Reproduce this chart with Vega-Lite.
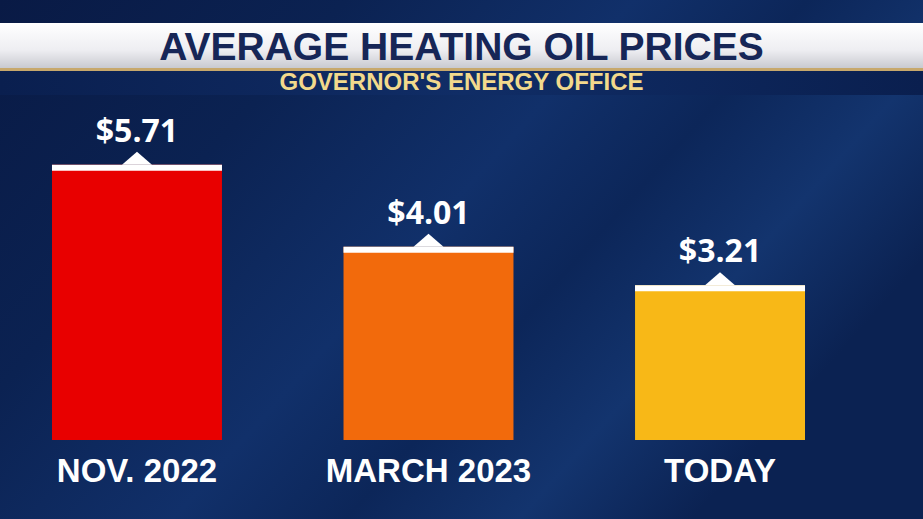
{
  "$schema": "https://vega.github.io/schema/vega-lite/v6.json",
  "width": 923,
  "height": 519,
  "autosize": {"type": "fit", "contains": "padding"},
  "padding": 0,
  "background": "#0c2555",
  "config": {"view": {"stroke": null}},
  "datasets": {
    "prices": [
      {"period": "NOV. 2022", "price": 5.71, "label": "$5.71"},
      {"period": "MARCH 2023", "price": 4.01, "label": "$4.01"},
      {"period": "TODAY", "price": 3.21, "label": "$3.21"}
    ],
    "header": [
      {"title": "AVERAGE HEATING OIL PRICES", "subtitle": "GOVERNOR'S ENERGY OFFICE"}
    ]
  },
  "data": {"name": "prices"},
  "layer": [
    {
      "data": {"name": "header"},
      "mark": {
        "type": "rect",
        "color": {
          "gradient": "linear", "x1": 0, "y1": 0, "x2": 1, "y2": 0.5,
          "stops": [
            {"offset": 0, "color": "#091a45"},
            {"offset": 0.3, "color": "#0b2252"},
            {"offset": 0.55, "color": "#11306a"},
            {"offset": 0.7, "color": "#0c2659"},
            {"offset": 0.85, "color": "#13346e"},
            {"offset": 1, "color": "#0b2252"}
          ]
        }
      },
      "encoding": {}
    },
    {
      "data": {"name": "header"},
      "mark": {
        "type": "rect",
        "color": {
          "gradient": "linear", "x1": 0, "y1": 0, "x2": 0, "y2": 1,
          "stops": [
            {"offset": 0, "color": "#ffffff"},
            {"offset": 0.6, "color": "#eeeef2"},
            {"offset": 1, "color": "#c9cad0"}
          ]
        }
      },
      "encoding": {"y": {"value": 23}, "y2": {"value": 68}}
    },
    {
      "data": {"name": "header"},
      "mark": {"type": "rect", "color": "#c7a86c"},
      "encoding": {"y": {"value": 68}, "y2": {"value": 71}}
    },
    {
      "data": {"name": "header"},
      "mark": {
        "type": "rect",
        "color": {
          "gradient": "linear", "x1": 0, "y1": 0, "x2": 1, "y2": 0,
          "stops": [
            {"offset": 0, "color": "#0a1f4f"},
            {"offset": 0.5, "color": "#102d66"},
            {"offset": 1, "color": "#0a1f4f"}
          ]
        }
      },
      "encoding": {"y": {"value": 71}, "y2": {"value": 95}}
    },
    {
      "data": {"name": "header"},
      "mark": {
        "type": "text", "font": "Liberation Sans", "fontWeight": "bold",
        "fontSize": 39, "color": "#162657", "baseline": "alphabetic", "align": "center"
      },
      "encoding": {"text": {"field": "title"}, "y": {"value": 60}}
    },
    {
      "data": {"name": "header"},
      "mark": {
        "type": "text", "font": "Liberation Sans", "fontWeight": "bold",
        "fontSize": 24, "color": "#f2d98c", "baseline": "alphabetic", "align": "center"
      },
      "encoding": {"text": {"field": "subtitle"}, "y": {"value": 90}}
    },
    {
      "mark": {"type": "bar"},
      "encoding": {
        "x": {
          "field": "period", "type": "nominal", "sort": null, "axis": null,
          "scale": {"type": "band", "domain": ["NOV. 2022", "MARCH 2023", "TODAY"], "range": [52, 805], "paddingInner": 0.417, "paddingOuter": 0}
        },
        "y": {
          "field": "price", "type": "quantitative", "axis": null,
          "scale": {"domain": [0, 9.13], "range": [440, 0], "nice": false, "zero": true}
        },
        "color": {
          "field": "period", "type": "nominal", "legend": null,
          "scale": {"domain": ["NOV. 2022", "MARCH 2023", "TODAY"], "range": ["#e80000", "#f26a0c", "#f8b817"]}
        }
      }
    },
    {
      "mark": {"type": "tick", "orient": "horizontal", "thickness": 6, "size": 170, "yOffset": 3, "color": "#ffffff", "opacity": 1},
      "encoding": {
        "x": {"field": "period", "type": "nominal", "sort": null},
        "y": {"field": "price", "type": "quantitative"}
      }
    },
    {
      "mark": {
        "type": "point", "shape": "M-1,0L0,-0.87L1,0Z", "size": 900,
        "filled": true, "color": "#ffffff", "opacity": 1, "strokeWidth": 0
      },
      "encoding": {
        "x": {"field": "period", "type": "nominal", "sort": null},
        "y": {"field": "price", "type": "quantitative"}
      }
    },
    {
      "mark": {
        "type": "text", "font": "Open Sans", "fontWeight": "bold", "fontSize": 32,
        "color": "#ffffff", "baseline": "alphabetic", "align": "center", "dy": -23
      },
      "encoding": {
        "x": {"field": "period", "type": "nominal", "sort": null},
        "y": {"field": "price", "type": "quantitative"},
        "text": {"field": "label"}
      }
    },
    {
      "mark": {
        "type": "text", "font": "Liberation Sans", "fontWeight": "bold", "fontSize": 33,
        "color": "#ffffff", "baseline": "alphabetic", "align": "center", "dy": 42
      },
      "encoding": {
        "x": {"field": "period", "type": "nominal", "sort": null},
        "y": {"datum": 0, "type": "quantitative"},
        "text": {"field": "period"}
      }
    }
  ]
}
